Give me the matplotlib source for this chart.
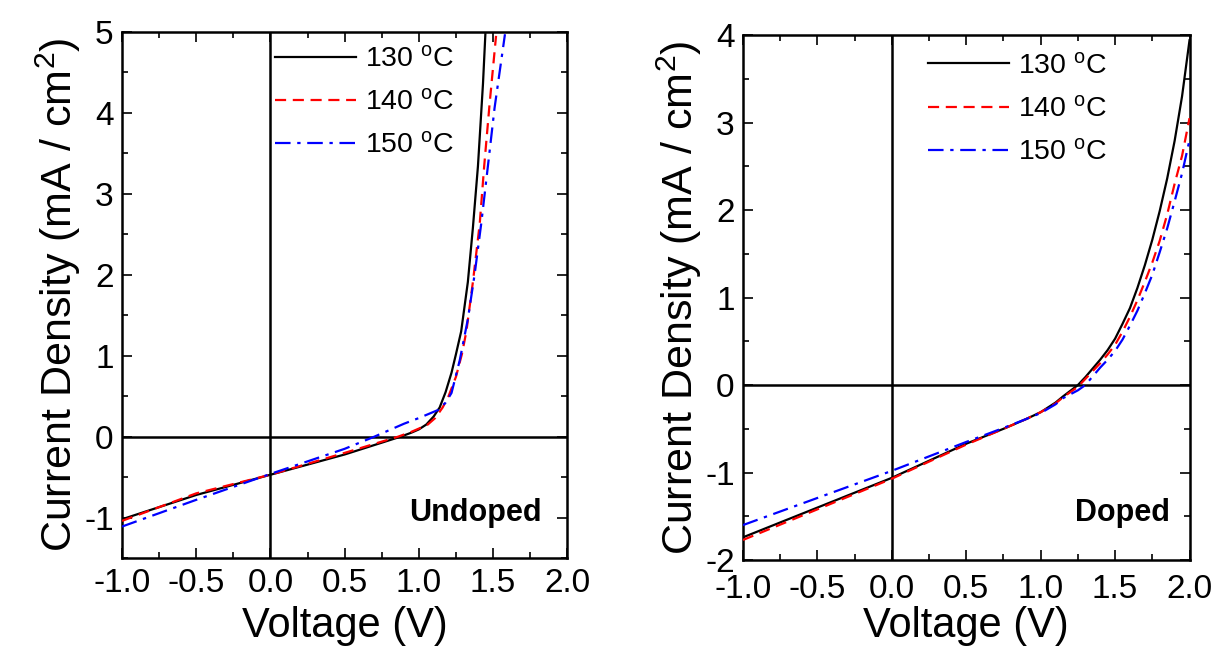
import matplotlib
matplotlib.use("Agg")
import matplotlib.pyplot as plt
from matplotlib.ticker import MultipleLocator

plt.rcParams["font.family"] = ["Liberation Sans", "DejaVu Sans"]
plt.rcParams["mathtext.fontset"] = "custom"
plt.rcParams["mathtext.rm"] = "Liberation Sans"
plt.rcParams["mathtext.it"] = "Liberation Sans:italic"
plt.rcParams["mathtext.bf"] = "Liberation Sans:bold"
plt.rcParams["axes.unicode_minus"] = False

labels = [r"130 $^{\mathrm{o}}$C", r"140 $^{\mathrm{o}}$C", r"150 $^{\mathrm{o}}$C"]
colors = ["black", "red", "blue"]
styles = ["-", (0, (5, 3)), (0, (7, 3, 1.5, 3))]

# Undoped panel (voltage V, current density mA/cm2)
und_v_130 = [-1.0, -0.5, 0.0, 0.5, 0.877, 0.95, 1.0, 1.05, 1.1, 1.14, 1.18, 1.22, 1.25,
             1.285, 1.33, 1.364, 1.398, 1.432, 1.448]
und_j_130 = [-1.02, -0.72, -0.47, -0.22, 0.0, 0.05, 0.09, 0.15, 0.25, 0.36, 0.55, 0.79, 1.02,
             1.30, 1.91, 2.58, 3.34, 4.36, 4.97]
und_v_140 = [-1.0, -0.5, 0.0, 0.5, 0.86, 0.95, 1.0, 1.06, 1.11, 1.16, 1.2, 1.25, 1.29,
             1.32, 1.364, 1.41, 1.44, 1.476, 1.52]
und_j_140 = [-1.04, -0.70, -0.47, -0.20, 0.0, 0.06, 0.10, 0.15, 0.23, 0.36, 0.50, 0.74, 1.02,
             1.30, 1.91, 2.63, 3.34, 4.10, 4.95]
und_v_150 = [-1.0, -0.5, 0.0, 0.5, 0.70, 0.9, 1.0, 1.13, 1.18, 1.22, 1.275, 1.33, 1.376,
             1.42, 1.465, 1.51, 1.58]
und_j_150 = [-1.11, -0.78, -0.46, -0.15, 0.0, 0.16, 0.23, 0.33, 0.42, 0.54, 0.94, 1.45, 2.01,
             2.63, 3.34, 4.06, 4.97]

# Doped panel
dop_v = [-1.0, -0.5, 0.0, 0.5, 0.75, 0.9, 1.0, 1.1, 1.15, 1.25, 1.3, 1.4, 1.45, 1.5, 1.55,
         1.6, 1.65, 1.7, 1.75, 1.8, 1.85, 1.9, 1.95, 2.0]
dop_j_130 = [-1.74, -1.40, -1.06, -0.67, -0.50, -0.39, -0.31, -0.20, -0.13, 0.0, 0.09, 0.29,
             0.40, 0.53, 0.70, 0.88, 1.11, 1.37, 1.66, 1.99, 2.36, 2.79, 3.30, 3.94]
dop_j_140 = [-1.77, -1.42, -1.07, -0.68, -0.50, -0.39, -0.31, -0.21, -0.14, -0.02, 0.07, 0.25,
             0.35, 0.46, 0.61, 0.78, 0.97, 1.18, 1.40, 1.65, 1.95, 2.30, 2.62, 3.05]
dop_j_150 = [-1.60, -1.29, -0.98, -0.65, -0.49, -0.39, -0.32, -0.22, -0.15, -0.06, 0.0, 0.20,
             0.29, 0.39, 0.52, 0.68, 0.85, 1.05, 1.26, 1.52, 1.79, 2.10, 2.42, 2.80]

fig = plt.figure(figsize=(12.2, 6.49), dpi=100)
ax1 = fig.add_axes([0.100, 0.140, 0.365, 0.811])
ax2 = fig.add_axes([0.609, 0.137, 0.366, 0.809])


def style_axes(ax, ylim, ymajor, xpad, xlabpad):
    ax.set_xlim(-1.0, 2.0)
    ax.set_ylim(*ylim)
    ax.axhline(0, color="black", linewidth=1.8, zorder=1)
    ax.axvline(0, color="black", linewidth=1.8, zorder=1)
    ax.xaxis.set_major_locator(MultipleLocator(0.5))
    ax.xaxis.set_minor_locator(MultipleLocator(0.25))
    ax.yaxis.set_major_locator(MultipleLocator(ymajor))
    ax.yaxis.set_minor_locator(MultipleLocator(ymajor / 2))
    ax.tick_params(which="both", direction="in", top=True, right=True, width=1.2)
    ax.tick_params(which="major", length=7, labelsize=24, pad=6)
    ax.tick_params(which="minor", length=4)
    ax.tick_params(axis="x", pad=xpad)
    ax.set_xticklabels([f"{t:.1f}" for t in ax.get_xticks()])
    for s in ax.spines.values():
        s.set_linewidth(1.8)
    ax.set_xlabel("Voltage (V)", fontsize=30, labelpad=xlabpad)
    ax.set_ylabel(r"Current Density (mA / cm$^2$)", fontsize=31, labelpad=1)


for v, j, c, ls, lab in zip([und_v_130, und_v_140, und_v_150],
                            [und_j_130, und_j_140, und_j_150], colors, styles, labels):
    ax1.plot(v, j, color=c, linestyle=ls, linewidth=1.6, label=lab, zorder=3)

for j, c, ls, lab in zip([dop_j_130, dop_j_140, dop_j_150], colors, styles, labels):
    ax2.plot(dop_v, j, color=c, linestyle=ls, linewidth=1.6, label=lab, zorder=3)

style_axes(ax1, (-1.5, 5.0), 1, 7, 5)
style_axes(ax2, (-2.0, 4.0), 1, 10, 1)

ax1.text(0.793, 0.086, "Undoped", transform=ax1.transAxes, fontsize=22,
         fontweight="bold", ha="center", va="center")
ax2.text(0.850, 0.0895, "Doped", transform=ax2.transAxes, fontsize=22,
         fontweight="bold", ha="center", va="center")

for ax, x0, y0 in [(ax1, 0.344, 0.972), (ax2, 0.414, 0.965)]:
    ax.legend(loc="upper left", bbox_to_anchor=(x0, y0), frameon=False,
              fontsize=20.5, handlelength=2.85, handletextpad=0.3,
              borderpad=0, borderaxespad=0, labelspacing=0.6)

fig.savefig("out.png", dpi=100)
